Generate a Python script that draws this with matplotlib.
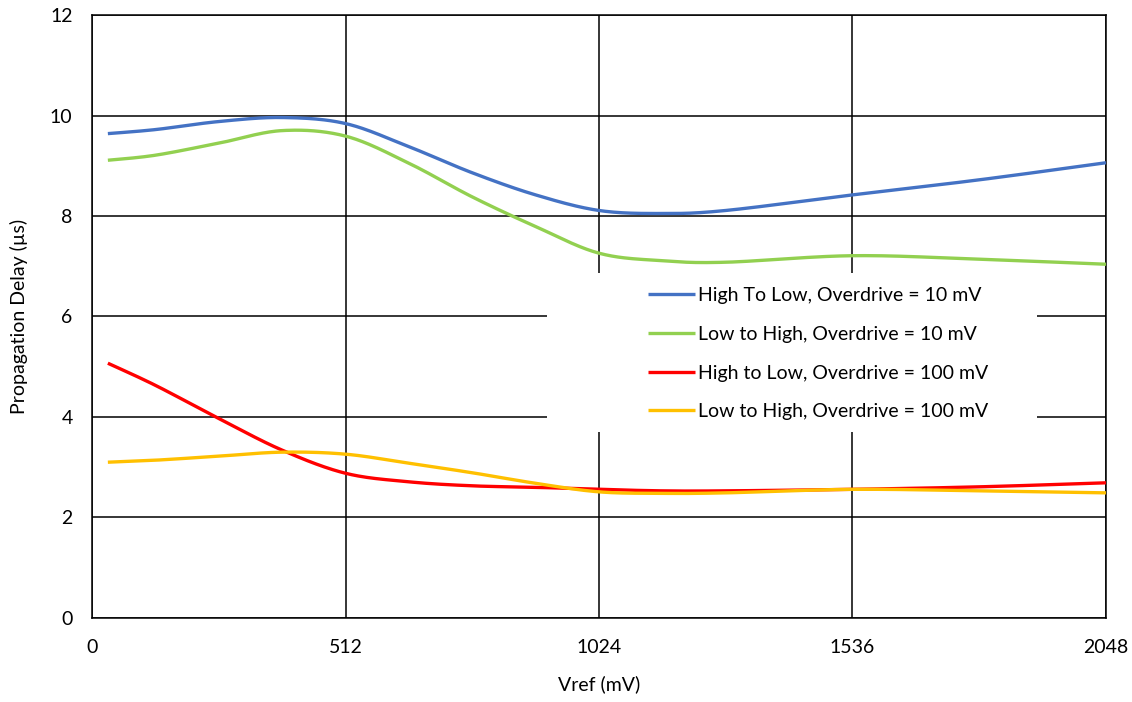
import numpy as np
import matplotlib
matplotlib.use("Agg")
import matplotlib.pyplot as plt
from matplotlib.patches import Rectangle

plt.rcParams['font.family'] = ['Lato', 'DejaVu Sans']

vref = [32, 128, 256, 384, 512, 640, 768, 896, 1024, 1152, 1280, 1536, 1792, 2048]
hl_10 = [9.64, 9.72, 9.88, 9.96, 9.84, 9.38, 8.86, 8.42, 8.11, 8.05, 8.11, 8.42, 8.72, 9.06]
lh_10 = [9.11, 9.21, 9.45, 9.70, 9.59, 9.05, 8.38, 7.79, 7.26, 7.11, 7.08, 7.21, 7.14, 7.04]
hl_100 = [5.07, 4.63, 3.97, 3.34, 2.88, 2.71, 2.63, 2.60, 2.56, 2.53, 2.53, 2.56, 2.61, 2.69]
lh_100 = [3.10, 3.14, 3.22, 3.30, 3.26, 3.08, 2.89, 2.68, 2.51, 2.48, 2.49, 2.56, 2.53, 2.49]

labels = ["High To Low, Overdrive = 10 mV", "Low to High, Overdrive = 10 mV",
          "High to Low, Overdrive = 100 mV", "Low to High, Overdrive = 100 mV"]
colors = ["#4472C4", "#92D050", "#FF0000", "#FFC000"]
xticks = [0, 512, 1024, 1536, 2048]
yticks = [0, 2, 4, 6, 8, 10, 12]


def smooth(x, y, n=30):
    # Bezier smoothing with Catmull-Rom control points (like Excel smoothed lines)
    x = np.asarray(x, float)
    y = np.asarray(y, float)
    P = np.column_stack([x, y])
    P = np.vstack([P[0], P, P[-1]])
    out = []
    for i in range(1, len(P) - 2):
        p0, p1, p2, p3 = P[i - 1], P[i], P[i + 1], P[i + 2]
        c1 = p1 + (p2 - p0) / 6.0
        c2 = p2 - (p3 - p1) / 6.0
        t = np.linspace(0, 1, n, endpoint=(i == len(P) - 3))[:, None]
        b = ((1 - t) ** 3) * p1 + 3 * ((1 - t) ** 2) * t * c1 + 3 * (1 - t) * t ** 2 * c2 + t ** 3 * p2
        out.append(b)
    out = np.vstack(out)
    return out[:, 0], out[:, 1]


fig = plt.figure(figsize=(11.32, 7.02), dpi=100)
ax = fig.add_axes([0.0813, 0.1197, 0.977 - 0.0813, 0.9786 - 0.1197])

for ys, c, lab in zip([hl_10, lh_10, hl_100, lh_100], colors, labels):
    sx, sy = smooth(vref, ys)
    ax.plot(sx, sy, color=c, lw=2.4, label=lab, solid_capstyle='butt', zorder=3)

ax.set_xlim(0, 2048)
ax.set_ylim(0, 12)
ax.set_xticks(xticks)
ax.set_yticks(yticks)
ax.grid(True, color='black', lw=1.1, zorder=1)
ax.set_axisbelow(True)
for s in ax.spines.values():
    s.set_color('black')
    s.set_linewidth(1.1)
ax.tick_params(axis='both', length=0, labelsize=14)
ax.tick_params(axis='x', pad=15)
ax.tick_params(axis='y', pad=14)
ax.set_xlabel("Vref (mV)", fontsize=14, labelpad=14)
ax.set_ylabel("Propagation Delay (µs)", fontsize=14, labelpad=16)

# white legend background area
ax.add_patch(Rectangle((0.4487, 0.3085), 0.932 - 0.4487, 0.572 - 0.3085,
                       transform=ax.transAxes, facecolor='white', edgecolor='none', zorder=2))

leg = ax.legend(loc='upper left', bbox_to_anchor=(0.548, 0.549), fontsize=14,
                frameon=False, handlelength=2.42, handletextpad=0.15,
                labelspacing=1.12, borderpad=0, borderaxespad=0)
leg.set_zorder(4)
for t in leg.get_texts():
    t.set_color('black')

fig.savefig("out.png", dpi=100, facecolor='white')
